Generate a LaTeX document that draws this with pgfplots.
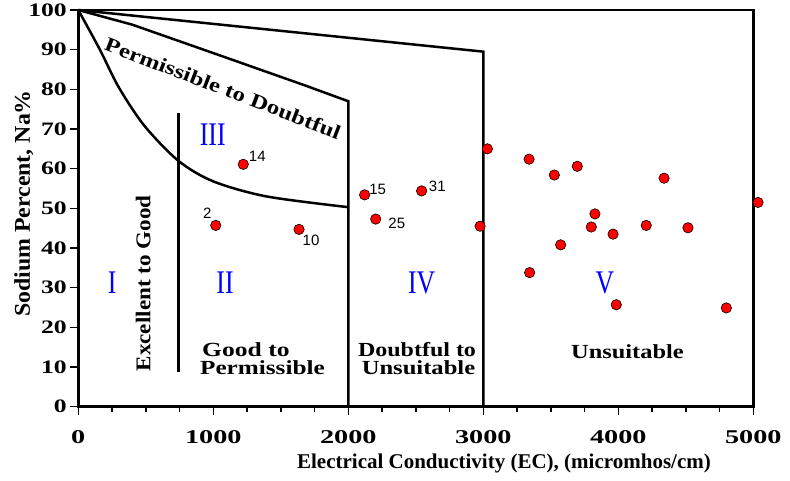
\documentclass[border=0pt]{standalone}
\usepackage{fontspec}
\setmainfont{Liberation Serif}
\newfontfamily\arialfont{Liberation Sans}
\usepackage{pgfplots}
\pgfplotsset{compat=1.18}
\newcommand{\tl}[1]{{\fontsize{19}{19}\selectfont\bfseries\scalebox{1.35}[1]{#1}}}
\newcommand{\tlx}[1]{{\fontsize{19.5}{19.5}\selectfont\bfseries\scalebox{1.45}[1]{#1}}}
\newcommand{\bt}[3]{{\fontsize{#1}{#1}\selectfont\bfseries\scalebox{#2}[1]{#3}}}
\newcommand{\rn}[1]{{\fontsize{33}{33}\selectfont\scalebox{0.78}[1]{#1}}}
\begin{document}
\begin{tikzpicture}
\begin{axis}[name=ax, scale only axis, width=675pt, height=396.7pt,
  xmin=0, xmax=5000, ymin=0, ymax=100, clip=false,
  axis line style={line width=2.5pt},
  tick pos=left, tick align=outside,
  major tick length=8pt, minor tick length=5pt,
  every tick/.style={black, line width=1.5pt},
  xtick={0,1000,2000,3000,4000,5000},
  xticklabels={{\tlx{0}},{\tlx{1000}},{\tlx{2000}},{\tlx{3000}},{\tlx{4000}},{\tlx{5000}}},
  xticklabel style={yshift=-12pt},
  minor x tick num=3,
  ytick={0,10,20,30,40,50,60,70,80,90,100},
  yticklabels={{\tl{0}},{\tl{10}},{\tl{20}},{\tl{30}},{\tl{40}},{\tl{50}},{\tl{60}},{\tl{70}},{\tl{80}},{\tl{90}},{\tl{100}}},
]
% boundary lines
\addplot[line width=2.5pt, smooth, tension=0.5] coordinates {(0,100)(160,90)(300,80.5)(490,70.8)(741,62)(1000,56.8)(1395,53)(2000,50.3)};
\addplot[line width=2.5pt] coordinates {(0,100)(400,96.3)(1070,88.3)(1670,81.1)(2000,77)(2000,0)};
\addplot[line width=2.5pt] coordinates {(0,100)(3000,89.5)(3000,0)};
\addplot[line width=2.5pt] coordinates {(741,74)(741,8.8)};
% samples
\addplot[only marks, mark=*, mark size=5.2pt, mark options={fill=red, draw=black, line width=0.6pt}] coordinates {
(1018,45.7)(1222,61.1)(1635,44.7)(2121,53.4)(2203,47.3)(2543,54.4)
(3030,65.0)(3339,62.4)(3526,58.4)(3696,60.6)(4339,57.6)(5035,51.5)
(3827,48.6)(3800,45.3)(3961,43.5)(4207,45.7)(4516,45.1)(2976,45.5)
(3573,40.8)(3343,33.8)(3985,25.7)(4800,24.9)};
% sample numbers
\node[font=\arialfont\fontsize{15}{15}\selectfont] at (axis cs:956,48.8) {2};
\node[font=\arialfont\fontsize{15}{15}\selectfont] at (axis cs:1326,63.2) {14};
\node[font=\arialfont\fontsize{15}{15}\selectfont] at (axis cs:1724,42.0) {10};
\node[font=\arialfont\fontsize{15}{15}\selectfont] at (axis cs:2218,54.9) {15};
\node[font=\arialfont\fontsize{15}{15}\selectfont] at (axis cs:2359,46.2) {25};
\node[font=\arialfont\fontsize{15}{15}\selectfont] at (axis cs:2659,55.5) {31};
% roman numerals
\node[text=blue] at (axis cs:250,31.2) {\rn{I}};
\node[text=blue] at (axis cs:1087,31.2) {\rn{II}};
\node[text=blue] at (axis cs:996,68.5) {\rn{III}};
\node[text=blue] at (axis cs:2544,31.2) {\rn{IV}};
\node[text=blue] at (axis cs:3901,31.2) {\rn{V}};
% class texts
\node[rotate=-21] at (axis cs:1072,80.3) {\bt{20}{1.24}{Permissible to Doubtful}};
\node[rotate=90] at (axis cs:481,31.1) {\bt{21}{1.1}{Excellent to Good}};
\node[anchor=base west, inner sep=0pt] at (axis cs:916,12.6) {\bt{20}{1.28}{Good to}};
\node[anchor=base west, inner sep=0pt] at (axis cs:901,8.0) {\bt{20}{1.26}{Permissible}};
\node[anchor=base, inner sep=0pt] at (axis cs:2509,12.6) {\bt{20}{1.2}{Doubtful to}};
\node[anchor=base, inner sep=0pt] at (axis cs:2520,8.0) {\bt{20}{1.23}{Unsuitable}};
\node[anchor=base, inner sep=0pt] at (axis cs:4068,12.2) {\bt{20}{1.22}{Unsuitable}};
% axis labels
\node[anchor=base, inner sep=0pt] at (axis cs:3153,-15.7) {\bt{21}{1.0}{Electrical Conductivity (EC), (micromhos/cm)}};
\node[rotate=90, anchor=base, inner sep=0pt] at (axis cs:-358,51.2) {\bt{22.5}{1.06}{Sodium Percent, Na\%}};
\end{axis}
\pgfresetboundingbox
\path ([shift={(-78.3pt,-73.3pt)}]ax.south west) rectangle ([shift={(36.7pt,10pt)}]ax.north east);
\end{tikzpicture}
\end{document}
